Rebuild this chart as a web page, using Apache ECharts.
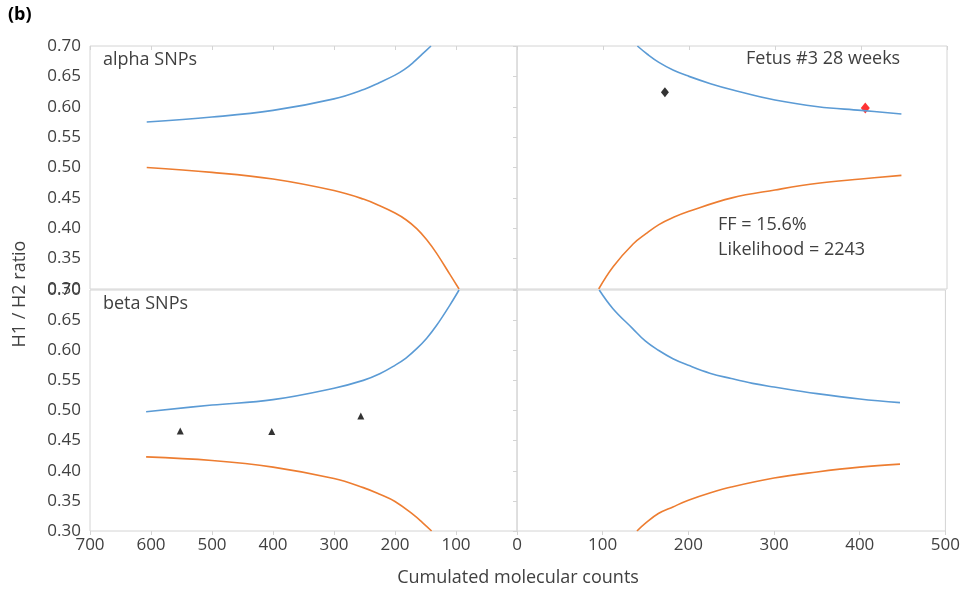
<!DOCTYPE html>
<html>
<head>
<meta charset="utf-8">
<script src="https://cdn.jsdelivr.net/npm/echarts@6/dist/echarts.min.js"></script>
<style>
  html, body { margin: 0; padding: 0; background: #fff; }
  #chart { width: 963px; height: 589px; }
</style>
</head>
<body>
<div id="chart"></div>
<script>
// alpha SNPs (top panel), left half: counts read right-to-left
var alphaLeftBlueX = [607, 500, 400, 300, 250, 225, 200, 185, 170, 155, 141];
var alphaLeftBlueY = [0.575, 0.583, 0.594, 0.613, 0.629, 0.640, 0.652, 0.661, 0.673, 0.687, 0.700];
var alphaLeftOrangeX = [607, 500, 400, 300, 252, 225, 200, 182, 164, 148, 132, 110, 95];
var alphaLeftOrangeY = [0.500, 0.492, 0.481, 0.462, 0.448, 0.437, 0.425, 0.414, 0.399, 0.381, 0.359, 0.324, 0.300];
// alpha SNPs, right half
var alphaRightBlueX = [140, 152, 165, 182, 200, 225, 250, 300, 350, 400, 447];
var alphaRightBlueY = [0.700, 0.686, 0.673, 0.660, 0.650, 0.638, 0.628, 0.611, 0.600, 0.594, 0.588];
var alphaRightOrangeX = [95, 112, 135, 150, 165, 182, 200, 250, 300, 350, 400, 447];
var alphaRightOrangeY = [0.300, 0.337, 0.374, 0.391, 0.406, 0.418, 0.428, 0.450, 0.463, 0.474, 0.481, 0.487];
// beta SNPs (bottom panel), left half
var betaLeftBlueX = [608, 500, 400, 300, 252, 225, 200, 182, 164, 148, 132, 110, 95];
var betaLeftBlueY = [0.498, 0.509, 0.518, 0.537, 0.550, 0.561, 0.575, 0.587, 0.603, 0.620, 0.641, 0.675, 0.700];
var betaLeftOrangeX = [608, 500, 400, 300, 252, 225, 200, 170, 155, 140];
var betaLeftOrangeY = [0.423, 0.417, 0.406, 0.387, 0.372, 0.361, 0.349, 0.327, 0.314, 0.300];
// beta SNPs, right half
var betaRightBlueX = [96, 112, 135, 150, 165, 182, 200, 225, 250, 275, 300, 350, 400, 447];
var betaRightBlueY = [0.700, 0.669, 0.636, 0.615, 0.600, 0.586, 0.575, 0.562, 0.553, 0.545, 0.539, 0.528, 0.519, 0.513];
var betaRightOrangeX = [140, 150, 165, 182, 200, 225, 250, 300, 350, 400, 447];
var betaRightOrangeY = [0.300, 0.313, 0.329, 0.340, 0.351, 0.363, 0.373, 0.388, 0.398, 0.406, 0.411];
// observed points
var alphaBlackPt = [172, 0.624];
var alphaRedPt = [405, 0.598];
var betaTriX = [552, 402, 256];
var betaTriY = [0.466, 0.465, 0.491];

var FONT = 'Open Sans';
var TXT = '#404040';
var GRIDC = '#d4d4d4';
var BLUE = '#5b9bd5';
var ORANGE = '#ed7d31';

function pairs(xs, ys) {
    return xs.map(function (x, i) { return [x, ys[i]]; });
}

function xAx(idx, max, inverse, bottom) {
    return {
        type: 'value', gridIndex: idx, min: 0, max: max, interval: 100, inverse: inverse,
        position: bottom ? 'bottom' : 'top',
        axisLine: { show: false },
        axisTick: { show: true, inside: !bottom, length: 4, lineStyle: { color: GRIDC } },
        splitLine: { show: false },
        axisLabel: {
            show: bottom, color: TXT, fontFamily: FONT, fontSize: 17, margin: 6,
            formatter: function (v) { return (idx === 3 && v === 0) ? '' : String(v); }
        }
    };
}

function yAx(idx, left) {
    return {
        type: 'value', gridIndex: idx, min: 0.3, max: 0.7, interval: 0.05,
        axisLine: { show: false },
        axisTick: { show: left, length: 4, lineStyle: { color: GRIDC } },
        splitLine: { show: false },
        axisLabel: {
            show: left, color: TXT, fontFamily: FONT, fontSize: 17, margin: 9,
            formatter: function (v) { return v.toFixed(2); }
        }
    };
}

function curve(idx, xs, ys, color) {
    return {
        type: 'line', xAxisIndex: idx, yAxisIndex: idx, data: pairs(xs, ys),
        smooth: 0.4, showSymbol: false, silent: true,
        lineStyle: { color: color, width: 1.6 }
    };
}

var chart = echarts.init(document.getElementById('chart'));
var gridBase = { show: true, borderColor: GRIDC, borderWidth: 1, containLabel: false };

var option = {
    animation: false,
    grid: [
        Object.assign({ left: 90, top: 46, width: 427, height: 243 }, gridBase),
        Object.assign({ left: 517, top: 46, width: 430, height: 243 }, gridBase),
        Object.assign({ left: 90, top: 290, width: 427, height: 241 }, gridBase),
        Object.assign({ left: 517, top: 290, width: 430, height: 241 }, gridBase)
    ],
    xAxis: [xAx(0, 700, true, false), xAx(1, 500, false, false), xAx(2, 700, true, true), xAx(3, 500, false, true)],
    yAxis: [yAx(0, true), yAx(1, false), yAx(2, true), yAx(3, false)],
    series: [
        curve(0, alphaLeftBlueX, alphaLeftBlueY, BLUE),
        curve(0, alphaLeftOrangeX, alphaLeftOrangeY, ORANGE),
        curve(1, alphaRightBlueX, alphaRightBlueY, BLUE),
        curve(1, alphaRightOrangeX, alphaRightOrangeY, ORANGE),
        curve(2, betaLeftBlueX, betaLeftBlueY, BLUE),
        curve(2, betaLeftOrangeX, betaLeftOrangeY, ORANGE),
        curve(3, betaRightBlueX, betaRightBlueY, BLUE),
        curve(3, betaRightOrangeX, betaRightOrangeY, ORANGE),
        {
            type: 'scatter', xAxisIndex: 1, yAxisIndex: 1, symbol: 'diamond', symbolSize: [8, 10],
            data: [alphaBlackPt], itemStyle: { color: '#000' }
        },
        {
            type: 'scatter', xAxisIndex: 1, yAxisIndex: 1, symbol: 'diamond', symbolSize: [9, 11],
            data: [alphaRedPt], itemStyle: { color: '#ff0000' }
        },
        {
            type: 'scatter', xAxisIndex: 2, yAxisIndex: 2, symbol: 'triangle', symbolSize: [7, 7],
            data: pairs(betaTriX, betaTriY), itemStyle: { color: '#000' }
        }
    ],
    graphic: [
        { type: 'text', left: 8, top: 6, style: { text: '(b)', fontFamily: FONT, fontSize: 18, fontWeight: 'bold', fill: '#000' } },
        { type: 'text', left: 103, top: 51, style: { text: 'alpha SNPs', fontFamily: FONT, fontSize: 18, fill: TXT } },
        { type: 'text', left: 103, top: 295, style: { text: 'beta SNPs', fontFamily: FONT, fontSize: 18, fill: TXT } },
        { type: 'text', left: 746, top: 50, style: { text: 'Fetus #3 28 weeks', fontFamily: FONT, fontSize: 18, fill: TXT } },
        { type: 'text', left: 718, top: 216, style: { text: 'FF = 15.6%', fontFamily: FONT, fontSize: 18, fill: TXT } },
        { type: 'text', left: 718, top: 241, style: { text: 'Likelihood = 2243', fontFamily: FONT, fontSize: 18, fill: TXT } },
        {
            type: 'text', x: 518, y: 578,
            style: { text: 'Cumulated molecular counts', fontFamily: FONT, fontSize: 18, fill: TXT, textAlign: 'center', textVerticalAlign: 'middle' }
        },
        {
            type: 'text', x: 20, y: 294, rotation: Math.PI / 2,
            style: { text: 'H1 / H2 ratio', fontFamily: FONT, fontSize: 18, fill: TXT, textAlign: 'center', textVerticalAlign: 'middle' }
        }
    ]
};

chart.setOption(option);
</script>
</body>
</html>
